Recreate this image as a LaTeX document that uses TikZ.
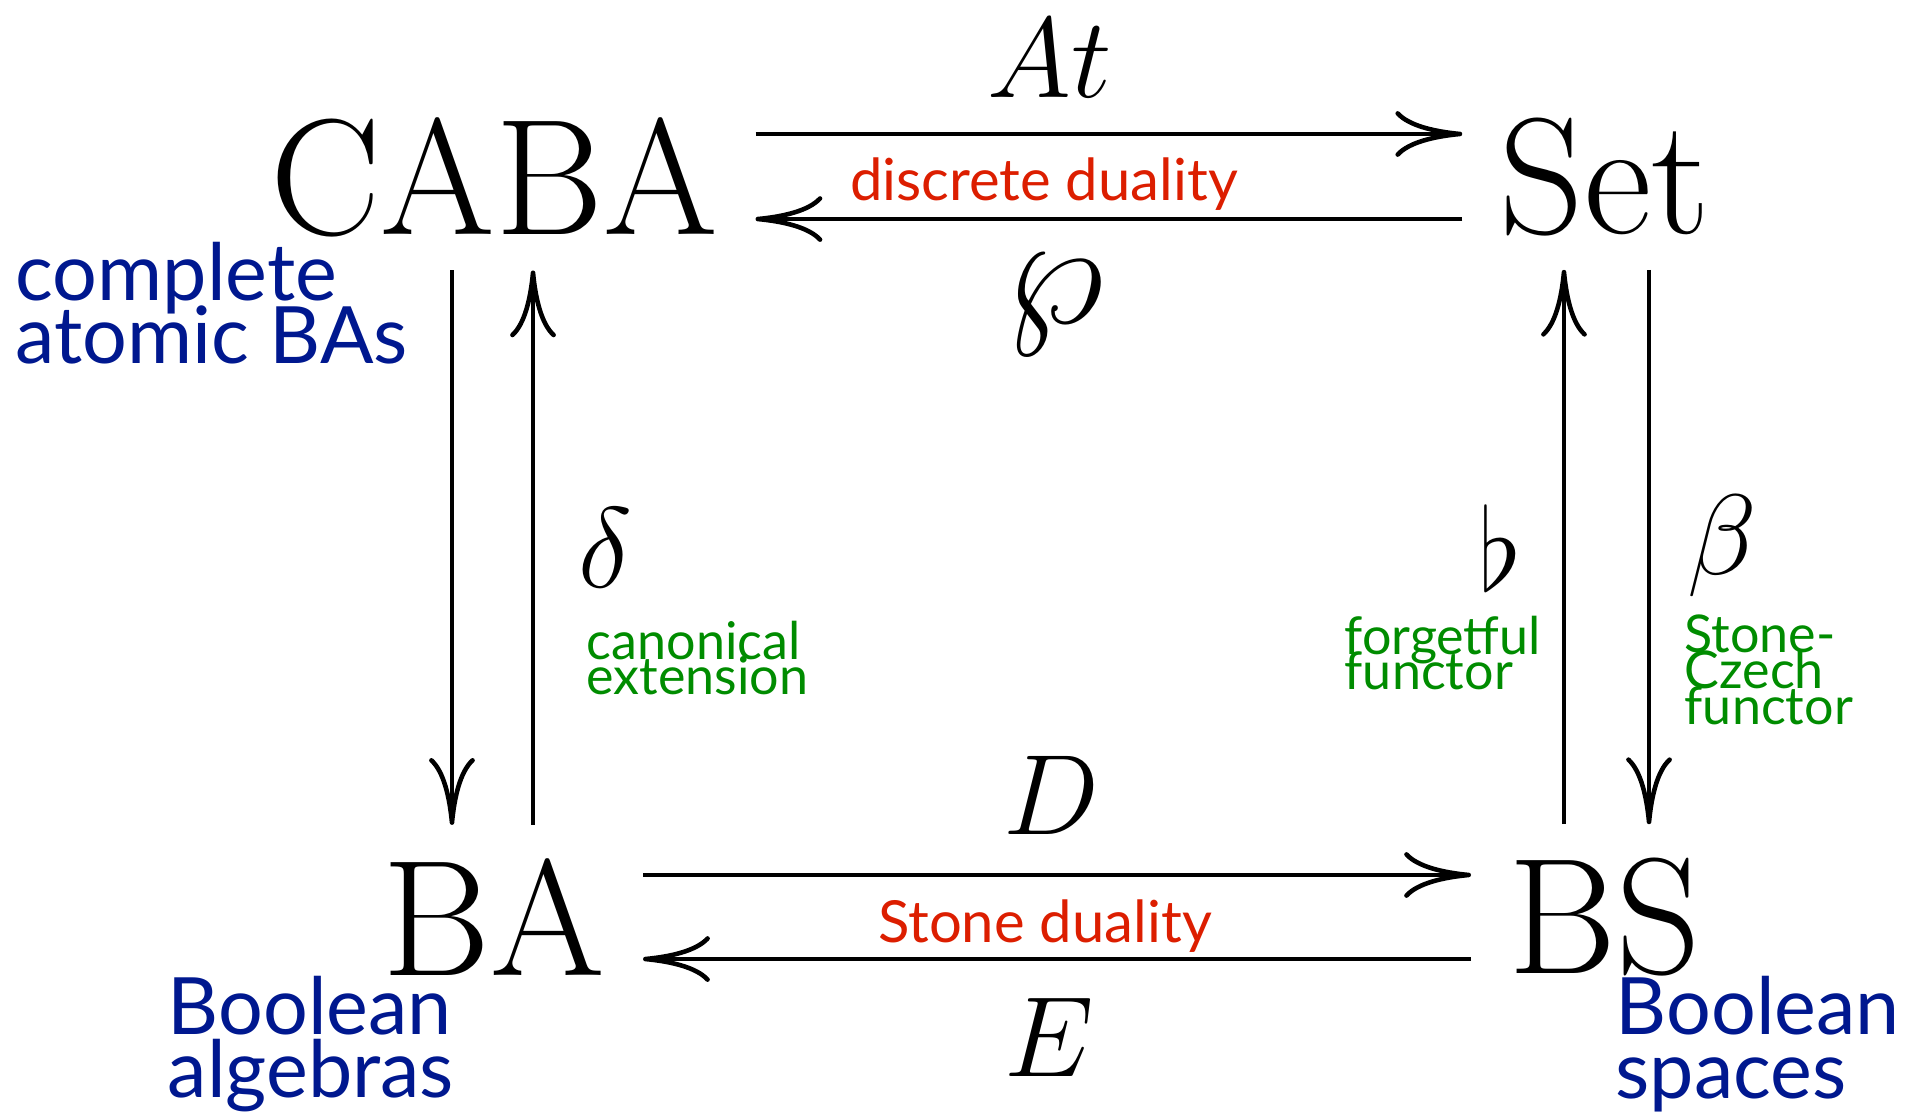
\RequirePackage{fix-cm}
\documentclass[tikz,border=0pt]{standalone}
\usepackage{amsmath,amssymb}
\usepackage{fontspec}
\usepackage{xcolor}
\usetikzlibrary{positioning,arrows.meta,calc}
\newfontfamily\gillfont{Lato}
\newcommand\tightlines{\lineskiplimit=-50pt\relax}
\definecolor{myblue}{RGB}{0,24,143}
\definecolor{mygreen}{RGB}{0,140,0}
\definecolor{myred}{RGB}{220,30,0}

\begin{document}
\begin{tikzpicture}[x=0.01cm, y=-0.01cm,
  cat/.style={inner xsep=0.37cm, inner ysep=0.33cm, font=\fontsize{47}{52}\selectfont},
  fun/.style={font=\fontsize{32.5}{36}\selectfont},
  arr/.style={-{Computer Modern Rightarrow[length=19pt,width=13pt]}, line width=1.3pt},
  dual/.style={font=\gillfont\fontsize{16.5}{18}\selectfont, myred},
  catname/.style={font={\gillfont\fontsize{22.5}{18}\selectfont\tightlines}, myblue, align=left, anchor=west, inner sep=0pt},
  note/.style={font={\gillfont\fontsize{14.8}{10.2}\selectfont\tightlines}, mygreen, align=left, anchor=west, inner sep=0pt}
]
\useasboundingbox (0,0) rectangle (1911,1111);
\node[cat] at (494,177) (caba) {CABA};
\node[cat] at (1605,177) (set) {Set};
\node[cat] at (494,917) (ba) {BA};
\node[cat] at (1605,917) (bs) {BS};

\draw[arr] ([yshift=4.3mm]caba.east) -- ([yshift=4.3mm]set.west);
\draw[arr] ([yshift=-4.2mm]set.west) -- ([yshift=-4.2mm]caba.east);
\draw[arr] ([yshift=4.2mm]ba.east) -- ([yshift=4.2mm]bs.west);
\draw[arr] ([yshift=-4.2mm]bs.west) -- ([yshift=-4.2mm]ba.east);
\draw[arr] ([xshift=-4.2mm]caba.south) -- ([xshift=-4.2mm]ba.north);
\draw[arr] ([xshift=3.9mm]ba.north) -- ([xshift=3.9mm]caba.south);
\draw[arr] ([xshift=-4.1mm]bs.north) -- ([xshift=-4.1mm]set.south);
\draw[arr] ([xshift=4.4mm]set.south) -- ([xshift=4.4mm]bs.north);

\node[fun] at (1050,58) (at) {$At$};
\node[fun, font=\fontsize{45}{50}\selectfont] at (1055,305) (wp) {$\wp$};
\node[fun] at (1052,795) (dd) {$D$};
\node[fun] at (1049,1037) (ee) {$E$};
\node[fun] at (605,548) (delta) {$\delta$};
\node[fun] at (1500,548) (flat) {$\flat$};
\node[fun] at (1722,546) (beta) {$\beta$};

\node[dual] at (1044,184) (disc) {discrete duality};
\node[dual] at (1045,926) (stone) {Stone duality};

\node[catname] at (15,303) (cabaname) {complete\\atomic BAs};
\node[catname] at (167,1044) (baname) {Boolean\\algebras};
\node[catname] at (1615,1044) (bsname) {Boolean\\spaces};

\node[note] at (586,658) (canext) {canonical\\extension};
\node[note] at (1344,653) (forget) {forgetful\\functor};
\node[note] at (1684,670) (stcech) {Stone-\\Czech\\functor};
\end{tikzpicture}
\end{document}
